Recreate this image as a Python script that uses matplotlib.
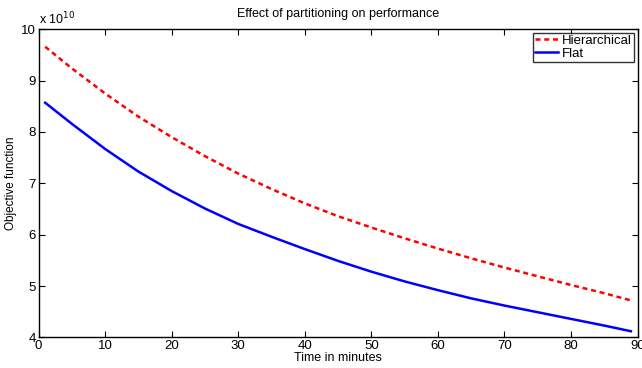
import matplotlib
matplotlib.use("Agg")
import matplotlib.pyplot as plt

# values, in units of 1e10
minutes = [1, 5, 10, 15, 20, 25, 30, 35, 40, 45, 50, 55, 60, 65, 70, 75, 80, 85, 89]
hierarchical = [9.66, 9.24, 8.75, 8.30, 7.90, 7.53, 7.19, 6.89, 6.61, 6.36,
                6.14, 5.93, 5.73, 5.54, 5.36, 5.19, 5.02, 4.86, 4.72]
flat = [8.57, 8.16, 7.67, 7.23, 6.85, 6.51, 6.21, 5.96, 5.72, 5.49,
        5.28, 5.09, 4.92, 4.76, 4.62, 4.49, 4.36, 4.23, 4.12]

plt.rcParams["font.family"] = ["Liberation Sans", "DejaVu Sans"]

fig = plt.figure(figsize=(6.42, 3.68), dpi=100)
ax = fig.add_axes([0.06, 0.0832, 0.933, 0.8372])

ax.plot(minutes, hierarchical, color="red", lw=1.8, dashes=(2.0, 1.5), label="Hierarchical")
ax.plot(minutes, flat, color="blue", lw=1.8, label="Flat")

ax.set_xlim(0, 90)
ax.set_ylim(4, 10)
ax.set_xticks(range(0, 91, 10))
ax.set_yticks(range(4, 11))
ax.tick_params(direction="in", length=4, width=0.8, top=True, right=True, labelsize=9.5, pad=2)
for s in ax.spines.values():
    s.set_linewidth(1.0)

ax.set_title("Effect of partitioning on performance", fontsize=9, pad=9)
ax.set_xlabel("Time in minutes", fontsize=9, labelpad=0)
ax.set_ylabel("Objective function", fontsize=8.5, labelpad=3)
ax.text(0.0, 1.008, r"x 10$^{10}$", transform=ax.transAxes, fontsize=9, va="bottom", ha="left")

leg = ax.legend(loc="upper right", fontsize=9.5, handlelength=1.8, handletextpad=0.3,
                borderpad=0.15, labelspacing=0.05, borderaxespad=0.25, fancybox=False)
leg.get_frame().set_edgecolor("black")
leg.get_frame().set_linewidth(1.0)

fig.savefig("out.png", dpi=100)
